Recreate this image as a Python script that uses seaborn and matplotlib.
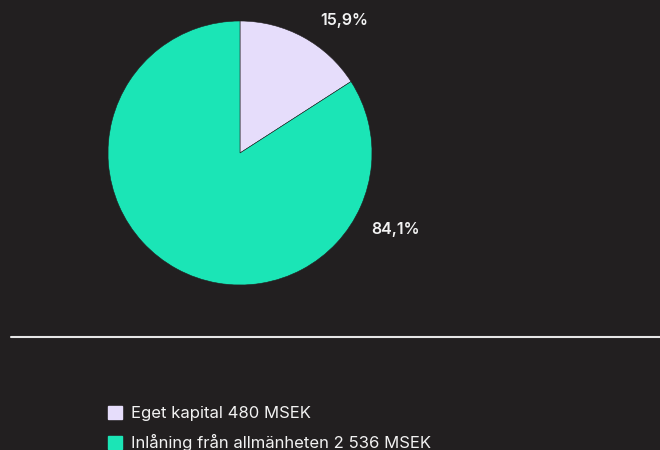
import matplotlib
matplotlib.use("Agg")
import matplotlib.pyplot as plt
import seaborn as sns
from matplotlib.lines import Line2D
from matplotlib.patches import Patch

# data
labels = ["Eget kapital 480 MSEK", "Inlåning från allmänheten 2 536 MSEK"]
shares = [15.9, 84.1]
pct_labels = ["15,9%", "84,1%"]

bg = "#221f20"
colors = ["#e6ddfb", "#1be5b6"]
text_col = "#f2f2f2"

sns.set_theme(style="dark", rc={"figure.facecolor": bg, "axes.facecolor": bg})
plt.rcParams["font.family"] = ["Inter", "DejaVu Sans"]

fig = plt.figure(figsize=(6.6, 4.5), dpi=100)
ax = fig.add_axes([108 / 660, 165 / 450, 264 / 660, 264 / 450])
ax.set_facecolor(bg)

wedges, _ = ax.pie(shares, colors=sns.color_palette(colors), startangle=90,
                   counterclock=False, radius=1,
                   wedgeprops=dict(linewidth=0.4, edgecolor=bg))
ax.set_xlim(-1, 1)
ax.set_ylim(-1, 1)
ax.set_aspect("equal")

# percent labels outside the slices
label_pos = [(0.79, 1.0), (1.18, -0.58)]
for (lx, ly), t in zip(label_pos, pct_labels):
    ax.text(lx, ly, t, color=text_col, fontsize=11.5, fontweight="semibold",
            ha="center", va="center", clip_on=False)

# separator line
fig.add_artist(Line2D([11 / 660, 1], [1 - 337 / 450, 1 - 337 / 450],
                      color="#e6e6e6", lw=1.5))

handles = [Patch(facecolor=c, edgecolor=c) for c in colors]
leg = fig.legend(handles, labels, loc="upper left",
                 bbox_to_anchor=(93 / 660, 1 - 391 / 450), frameon=False,
                 fontsize=12, handlelength=0.85, handleheight=0.85,
                 handletextpad=0.55, labelspacing=0.75)
for t in leg.get_texts():
    t.set_color(text_col)

fig.savefig("out.png", dpi=100, facecolor=bg)
